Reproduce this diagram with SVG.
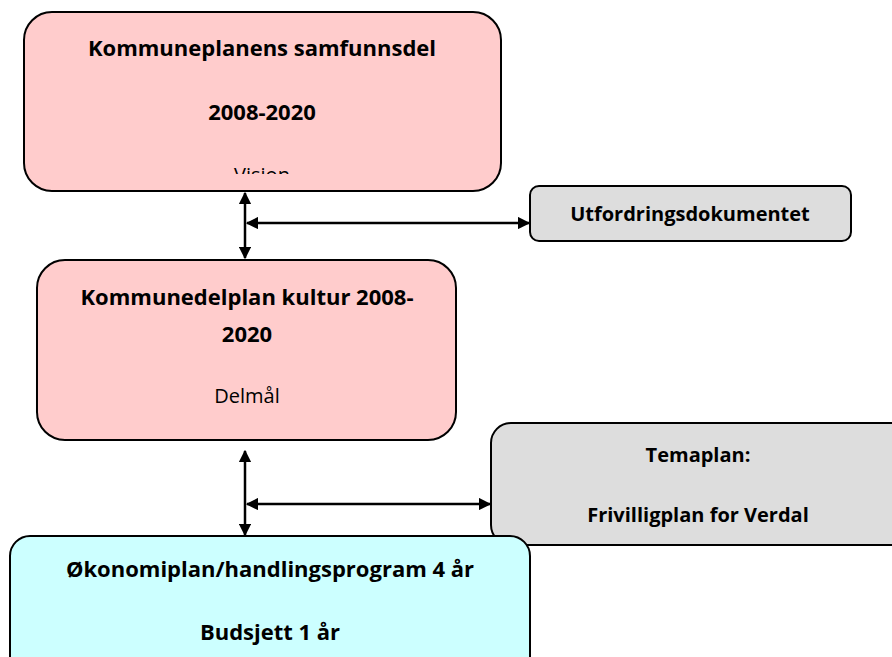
<svg xmlns="http://www.w3.org/2000/svg" width="892" height="657" viewBox="0 0 892 657">
<style>
.box{stroke:#000;stroke-width:2}
.pink{fill:#ffcccc}
.grey{fill:#dddddd}
.cyan{fill:#ccffff}
.b{font-family:"Open Sans","Liberation Sans",sans-serif;font-weight:bold;font-size:22px;fill:#000;text-anchor:middle}
.s{font-size:20px}
.r{font-family:"Open Sans","Liberation Sans",sans-serif;font-size:20px;fill:#000;text-anchor:middle}
.c{stroke:#000;stroke-width:2.5;fill:none;marker-start:url(#ah);marker-end:url(#ah)}
</style>
<defs>
<marker id="ah" viewBox="0 0 10 10" refX="9" refY="5" markerWidth="5" markerHeight="5" orient="auto-start-reverse" markerUnits="strokeWidth">
<path d="M0,0 L10,5 L0,10 Z" fill="#000"/>
</marker>
<clipPath id="clip1"><rect x="24" y="12" width="477" height="162"/></clipPath>
</defs>
<g id="connectors">
<line class="c" x1="245" y1="193" x2="245" y2="258"/>
<line class="c" x1="247" y1="223" x2="529" y2="223"/>
<line class="c" x1="245" y1="451" x2="245" y2="535"/>
<line class="c" x1="247" y1="504" x2="490" y2="504"/>
</g>
<g id="n-samfunnsdel">
<rect class="box pink" x="24" y="12" width="477" height="179" rx="28"/>
<text class="b" x="262" y="56">Kommuneplanens samfunnsdel</text>
<text class="b" x="262" y="120">2008-2020</text>
<text class="r" x="262" y="182" clip-path="url(#clip1)">Vision</text>
</g>
<g id="n-utfordring">
<rect class="box grey" x="530" y="186" width="321" height="55" rx="9"/>
<text class="b s" x="690" y="221">Utfordringsdokumentet</text>
</g>
<g id="n-kultur">
<rect class="box pink" x="37" y="260" width="419" height="180" rx="28"/>
<text class="b" x="247" y="305">Kommunedelplan kultur 2008-</text>
<text class="b" x="247" y="342">2020</text>
<text class="r" x="247" y="403">Delmål</text>
</g>
<g id="n-temaplan">
<rect class="box grey" x="491" y="423" width="420" height="122" rx="20"/>
<text class="b s" x="698" y="462">Temaplan:</text>
<text class="b s" x="698" y="522">Frivilligplan for Verdal</text>
</g>
<g id="n-okonomi">
<rect class="box cyan" x="10" y="536" width="520" height="140" rx="20"/>
<text class="b" x="270" y="577">Økonomiplan/handlingsprogram 4 år</text>
<text class="b" x="270" y="640">Budsjett 1 år</text>
</g>
</svg>
